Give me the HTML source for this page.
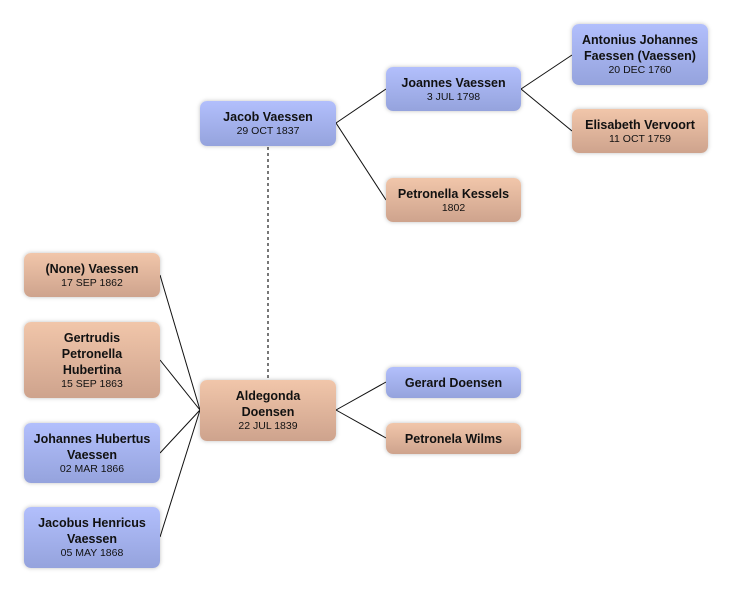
<!DOCTYPE html>
<html><head><meta charset="utf-8"><style>
body{margin:0;width:732px;height:593px;background:#fff;position:relative;overflow:hidden;font-family:"Liberation Sans","DejaVu Sans",sans-serif;}
.b{position:absolute;box-sizing:border-box;border-radius:7px;display:flex;flex-direction:column;justify-content:center;align-items:center;text-align:center;color:#111;box-shadow:0 0 4px rgba(0,0,0,0.25);}
.m{background:linear-gradient(#b2bffc,#95a3dd);}
.f{background:linear-gradient(#f1c6aa,#cea38d);}
.n{font-weight:bold;font-size:12.5px;line-height:16px;}
.d{font-size:10.5px;line-height:13px;}
svg{position:absolute;left:0;top:0;}
</style></head><body>
<svg width="732" height="593">
<g stroke="#111" stroke-width="1" fill="none">
<path d="M336 123 L386 89 M336 123 L386 200 M521 89 L572 55 M521 89 L572 131"/>
<path d="M200 410 L160 275 M200 410 L160 360 M200 410 L160 453 M200 410 L160 537"/>
<path d="M336 410 L386 382 M336 410 L386 438"/>
</g>
<path d="M268 147 V380" stroke="#777" stroke-width="2" stroke-dasharray="3,3"/>
</svg>
<div class="b m" style="left:200px;top:101px;width:136px;height:45px"><div class="n">Jacob Vaessen</div><div class="d">29 OCT 1837</div></div>
<div class="b m" style="left:386px;top:67px;width:135px;height:44px"><div class="n">Joannes Vaessen</div><div class="d">3 JUL 1798</div></div>
<div class="b m" style="left:572px;top:24px;width:136px;height:61px"><div class="n">Antonius Johannes<br>Faessen (Vaessen)</div><div class="d">20 DEC 1760</div></div>
<div class="b f" style="left:572px;top:109px;width:136px;height:44px"><div class="n">Elisabeth Vervoort</div><div class="d">11 OCT 1759</div></div>
<div class="b f" style="left:386px;top:178px;width:135px;height:44px"><div class="n">Petronella Kessels</div><div class="d">1802</div></div>
<div class="b f" style="left:24px;top:253px;width:136px;height:44px"><div class="n">(None) Vaessen</div><div class="d">17 SEP 1862</div></div>
<div class="b f" style="left:24px;top:322px;width:136px;height:76px"><div class="n">Gertrudis<br>Petronella<br>Hubertina</div><div class="d">15 SEP 1863</div></div>
<div class="b m" style="left:24px;top:423px;width:136px;height:60px"><div class="n">Johannes Hubertus<br>Vaessen</div><div class="d">02 MAR 1866</div></div>
<div class="b m" style="left:24px;top:507px;width:136px;height:61px"><div class="n">Jacobus Henricus<br>Vaessen</div><div class="d">05 MAY 1868</div></div>
<div class="b f" style="left:200px;top:380px;width:136px;height:61px"><div class="n">Aldegonda<br>Doensen</div><div class="d">22 JUL 1839</div></div>
<div class="b m" style="left:386px;top:367px;width:135px;height:31px"><div class="n">Gerard Doensen</div></div>
<div class="b f" style="left:386px;top:423px;width:135px;height:31px"><div class="n">Petronela Wilms</div></div>
</body></html>
